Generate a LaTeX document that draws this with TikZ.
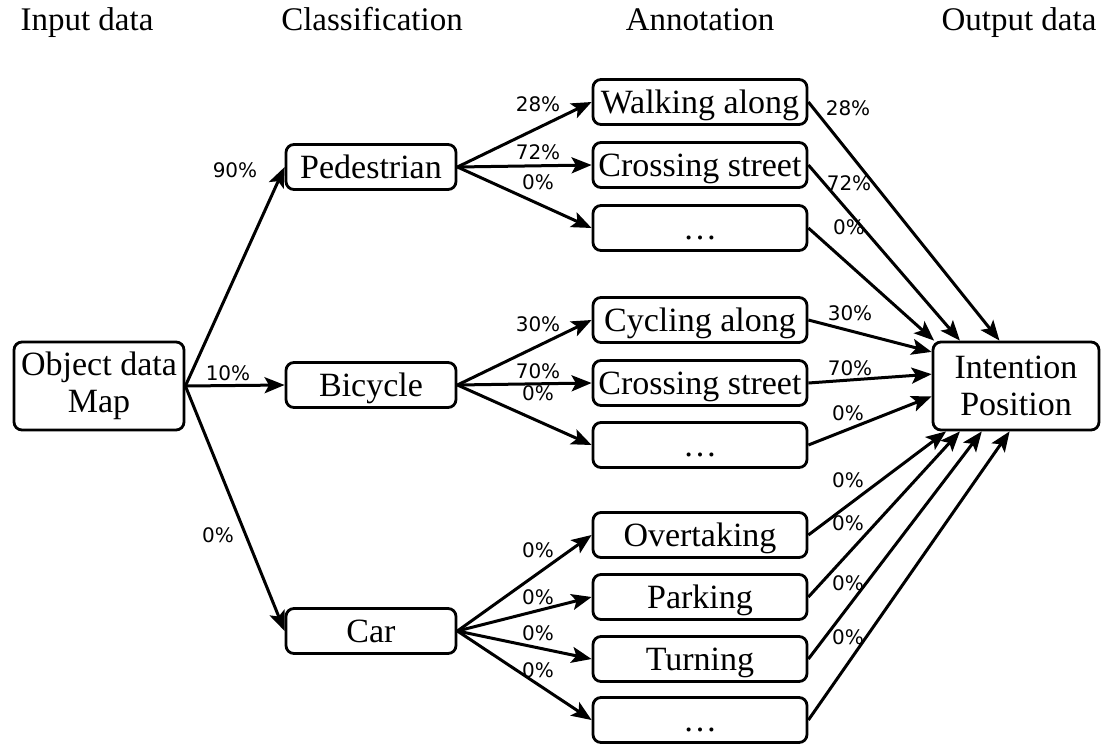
\documentclass[tikz,border=0pt]{standalone}
\usepackage{fontspec}
\setmainfont{Liberation Serif}
\newfontfamily\pctfont{DejaVu Sans}
\usetikzlibrary{arrows.meta}
\definecolor{figline}{RGB}{0,0,0}
\tikzset{
  box/.style ={draw=figline, line width=1.4pt, rounded corners=4pt, fill=white, font=\fontsize{17}{18.5}\selectfont, align=center, inner sep=0pt, minimum height=22.5pt},
  cls/.style ={box, minimum width=85pt, text height=11.2pt, text depth=0pt},
  ann/.style ={box, minimum width=107pt, text height=11.2pt, text depth=0pt},
  big/.style ={box, minimum height=44pt},
  lab/.style ={font=\fontsize{16.5}{18.5}\selectfont, inner sep=0pt, anchor=base},
  pct/.style ={font=\pctfont\fontsize{10}{11}\selectfont, inner sep=0pt},
  arr/.style ={draw=figline, line width=1.5pt, -{Stealth[length=10pt,width=8pt,inset=2.2pt]}},
}

\begin{document}
\begin{tikzpicture}[x=0.5pt,y=-0.5pt]
  \useasboundingbox (0,0) rectangle (1103,744);
  \node[lab] (hin) at (87,31) {Input data};
  \node[lab] (hcl) at (372,31) {Classification};
  \node[lab] (han) at (700,31) {Annotation};
  \node[lab] (hout) at (1019,31) {Output data};
  \node[big, minimum width=85pt] (obj) at (99,386) {Object data\\Map};
  \node[cls] (ped) at (371,167) {Pedestrian};
  \node[cls] (bic) at (371,385) {Bicycle};
  \node[cls] (car) at (371,631) {Car};
  \node[ann] (walk) at (700,102) {Walking along};
  \node[ann] (crossp) at (700,165) {Crossing street};
  \node[ann] (dotsp) at (700,228) {\ldots};
  \node[ann] (cyc) at (700,320) {Cycling along};
  \node[ann] (crossb) at (700,383) {Crossing street};
  \node[ann] (dotsb) at (700,445) {\ldots};
  \node[ann] (over) at (700,535) {Overtaking};
  \node[ann] (park) at (700,597) {Parking};
  \node[ann] (turn) at (700,659) {Turning};
  \node[ann] (dotsc) at (700,720) {\ldots};
  \node[big, minimum width=83pt] (int) at (1016,386) {Intention\\Position};
  \draw[arr] (obj.east) -- (ped.west);
  \draw[arr] (obj.east) -- (bic.west);
  \draw[arr] (obj.east) -- (car.west);
  \node[pct] (lped) at (235,170) {90\%};
  \node[pct] (lbic) at (228,373) {10\%};
  \node[pct] (lcar) at (218,535) {0\%};
  \draw[arr] (ped.east) -- (walk.west);
  \draw[arr] (ped.east) -- (crossp.west);
  \draw[arr] (ped.east) -- (dotsp.west);
  \node[pct] (lwalk) at (538,104) {28\%};
  \node[pct] (lcrossp) at (538,152) {72\%};
  \node[pct] (ldotsp) at (538,182) {0\%};
  \draw[arr] (bic.east) -- (cyc.west);
  \draw[arr] (bic.east) -- (crossb.west);
  \draw[arr] (bic.east) -- (dotsb.west);
  \node[pct] (lcyc) at (538,324) {30\%};
  \node[pct] (lcrossb) at (538,371) {70\%};
  \node[pct] (ldotsb) at (538,393) {0\%};
  \draw[arr] (car.east) -- (over.west);
  \draw[arr] (car.east) -- (park.west);
  \draw[arr] (car.east) -- (turn.west);
  \draw[arr] (car.east) -- (dotsc.west);
  \node[pct] (lover) at (538,550) {0\%};
  \node[pct] (lpark) at (538,597) {0\%};
  \node[pct] (lturn) at (538,633) {0\%};
  \node[pct] (ldotsc) at (538,670) {0\%};
  \draw[arr] (walk.east) -- (int.110);
  \draw[arr] (crossp.east) -- (int.141);
  \draw[arr] (dotsp.east) -- (int.151);
  \draw[arr] (cyc.east) -- (int.158);
  \draw[arr] (crossb.east) -- (int.172.5);
  \draw[arr] (dotsb.east) -- (int.187.5);
  \draw[arr] (over.east) -- (int.213);
  \draw[arr] (park.east) -- (int.219);
  \draw[arr] (turn.east) -- (int.233);
  \draw[arr] (dotsc.east) -- (int.262);
  \node[pct] (rwalk) at (848,108) {28\%};
  \node[pct] (rcrossp) at (849,183) {72\%};
  \node[pct] (rdotsp) at (849,227) {0\%};
  \node[pct] (rcyc) at (850,313) {30\%};
  \node[pct] (rcrossb) at (850,368) {70\%};
  \node[pct] (rdotsb) at (848,413) {0\%};
  \node[pct] (rover) at (848,480) {0\%};
  \node[pct] (rpark) at (848,523) {0\%};
  \node[pct] (rturn) at (848,583) {0\%};
  \node[pct] (rdotsc) at (848,637) {0\%};
\end{tikzpicture}
\end{document}
